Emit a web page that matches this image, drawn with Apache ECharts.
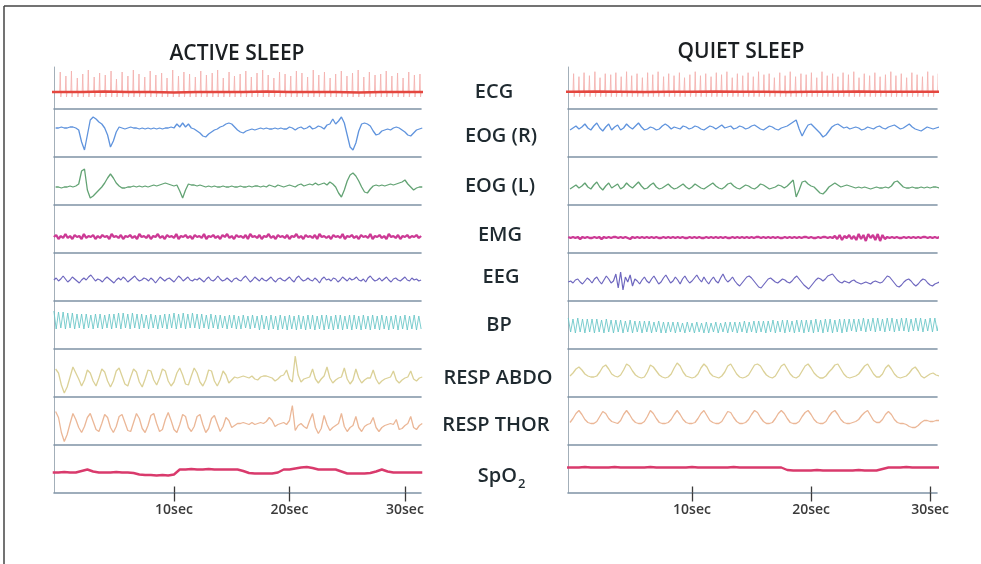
<!DOCTYPE html>
<html><head><meta charset="utf-8">
<script src="https://cdn.jsdelivr.net/npm/echarts@6/dist/echarts.min.js"></script>
<style>html,body{margin:0;padding:0;background:#fff}#c{width:981px;height:564px}</style>
</head><body><div id="c"></div>
<script>
// ---------------- DATA ----------------
const panelTitles = ['ACTIVE SLEEP', 'QUIET SLEEP'];
const channelNames = ['ECG', 'EOG (R)', 'EOG (L)', 'EMG', 'EEG', 'BP', 'RESP ABDO', 'RESP THOR', 'SpO'];
const spo2Subscript = '2';
const tickValues = [10, 20, 30];
const tickSuffix = 'sec';

// ECG: beat times (s) and R-peak heights; baseline level sampled every 2 s from t=-2
const ecgBeatsLeft = [0.15,0.64,1.12,1.63,2.10,2.58,3.09,3.56,4.05,4.55,
 5.02,5.51,6.01,6.48,6.97,7.47,7.94,8.43,8.93,9.40,
 9.89,10.39,10.86,11.35,11.85,12.32,12.81,13.31,13.78,14.27,
 14.77,15.24,15.73,16.22,16.70,17.19,17.68,18.16,18.65,19.14,
 19.62,20.11,20.60,21.08,21.57,22.06,22.54,23.03,23.52,24.00,
 24.49,24.98,25.46,25.95,26.44,26.92,27.41,27.90,28.38,28.87,
 29.36,29.84,30.33,30.82,31.30];
const ecgPeaksLeft = [20,16,21,14,18,22,15,19,17,21,
 13,20,16,22,18,15,21,17,19,14,
 22,16,20,18,15,21,17,19,22,14,
 20,16,18,21,15,19,22,17,14,20,
 18,16,21,19,15,22,17,20,14,18,
 21,16,19,22,15,20,17,18,21,16,
 19,14,20,17,18];
const ecgBaseLeft = [17,17,17,17.5,17,17,16.5,17,17,17,17.5,17,17,17,16.5,17,17,17];
const ecgBeatsRight = [0.05,0.50,0.93,1.38,1.84,2.27,2.71,3.17,3.60,4.05,
 4.50,4.93,5.38,5.83,6.27,6.70,7.15,7.61,8.04,8.49,
 8.94,9.37,9.82,10.27,10.71,11.15,11.60,12.04,12.48,12.93,
 13.38,13.81,14.26,14.71,15.15,15.59,16.04,16.48,16.92,17.37,
 17.82,18.25,18.70,19.15,19.59,20.03,20.48,20.92,21.36,21.81,
 22.26,22.69,23.14,23.59,24.03,24.47,24.92,25.36,25.80,26.25,
 26.70,27.13,27.58,28.03,28.47,28.91,29.36,29.80,30.24,30.69];
const ecgPeaksRight = [18,15,19,16,20,14,18,17,19,15,
 20,16,18,14,19,17,20,15,18,16,
 19,14,17,20,16,18,15,19,17,20,
 14,18,16,19,15,20,17,18,14,19,
 16,20,15,18,17,19,14,20,16,18,
 15,19,17,20,14,18,16,19,15,17,
 20,16,18,14,19,17,15,20,16,18];
const ecgBaseRight = [17.3,17.3,17.5,17.3,17,17.3,17.3,17.5,17.3,17.3,17,17.3,17.3,17.5,17.3,17.3,17.3,17.3];

// Slow channels: sampled every 0.25 s from t=-0.25 (rows = 2 s)
const eogRLeft = [29,29,30,29,29,30,30,29, 27,15,7,22,37,40,38,35, 33,29,22,10,16,25,30,29, 28,29,30,29,29,28,29,28,
 29,28,29,28,29,28,29,29, 30,29,33,30,34,30,33,29, 28,26,24,21,20,23,25,27, 28,30,31,33,34,33,30,27,
 25,24,26,27,28,27,28,29, 28,29,28,28,29,28,29,28, 28,30,29,27,29,30,28,29, 31,28,29,31,30,28,32,33,
 38,33,36,40,34,22,10,7, 14,26,33,34,33,31,26,22, 23,26,27,28,27,29,30,29, 27,25,22,21,24,27,28,29];
const eogLLeft = [18,18,17,18,18,19,18,19, 21,34,36,15,7,9,12,15, 18,22,27,31,27,22,19,17, 17,18,18,19,18,19,18,19,
 18,19,20,19,20,21,22,21, 20,19,20,14,7,15,21,20, 20,19,20,19,18,19,18,19, 18,18,19,18,18,19,18,18,
 19,18,18,19,18,19,19,18, 19,18,20,19,18,20,19,18, 19,20,19,18,20,21,19,20, 21,20,22,20,21,22,20,23,
 21,18,12,8,15,24,30,32, 29,24,18,13,12,16,19,20, 19,20,19,20,21,20,21,22, 23,25,21,18,15,17,18,18];
const abdoLeft = [28,24,12,4,10,20,30,24, 18,11,17,27,24,16,11,19, 28,25,16,10,16,26,29,21, 13,11,20,28,25,15,10,18,
 27,26,17,12,19,28,26,16, 11,15,24,29,22,13,12,21, 29,24,15,11,17,27,26,16, 11,17,26,22,14,17,20,19,
 20,21,20,19,21,18,17,20, 21,21,20,19,16,18,21,22, 27,18,15,41,22,15,18,19, 20,28,18,14,18,21,30,19,
 14,17,19,20,29,18,13,17, 28,19,14,17,19,19,27,18, 13,16,18,19,20,26,17,14, 17,19,20,26,18,16,19,20];
const thorLeft = [33,27,12,3,10,21,31,25, 17,12,18,27,31,23,15,13, 21,30,27,17,12,18,28,30, 22,14,13,22,31,26,16,12,
 19,29,31,21,13,15,25,32, 24,15,12,20,30,28,17,13, 18,28,30,20,12,16,26,29, 21,13,18,27,24,17,19,21,
 21,22,21,20,22,20,21,22, 21,23,27,24,18,20,21,22, 20,24,39,14,19,21,18,16, 24,31,17,11,16,29,20,14,
 17,19,21,31,18,13,17,19, 28,17,13,18,20,21,27,17, 13,17,19,20,21,20,25,15, 16,19,21,28,17,15,19,21];
const eogRRight = [27,29,31,28,30,33,29,27, 31,34,29,26,30,33,27,30, 32,27,29,33,30,28,31,34, 30,27,28,30,29,27,28,31,
 33,31,28,30,29,28,31,30, 28,29,31,30,28,27,29,31, 30,28,30,32,29,30,31,28, 29,31,30,28,29,31,32,30,
 28,27,29,31,30,28,27,29, 30,31,33,35,37,28,21,27, 32,33,30,27,24,20,22,26, 30,32,33,31,29,30,28,29,
 30,29,27,28,30,29,28,30, 31,29,28,30,31,32,30,28, 29,31,33,30,28,27,26,28, 30,29,28,29,30,29,29,29];
const eogLRight = [16,18,20,17,19,22,18,16, 20,23,18,15,19,22,17,19, 21,16,18,22,19,17,20,23, 19,16,17,20,22,18,16,17,
 19,21,18,16,17,19,21,18, 16,18,21,19,17,16,18,20, 22,19,17,16,18,21,22,19, 17,16,18,20,19,17,16,18,
 21,20,18,16,17,18,20,19, 17,19,22,25,8,15,23,24, 21,19,18,15,12,11,14,18, 20,22,20,18,19,20,19,18,
 17,18,17,18,17,16,17,18, 17,17,18,17,19,23,24,21, 18,17,17,18,17,17,18,17, 18,17,18,18,17,18,18,18];
const abdoRight = [21,24,28,30,27,23,21,20, 20,21,25,30,32,28,23,21, 20,22,27,33,31,26,22,20, 19,20,25,32,30,26,22,20,
 19,20,23,29,34,31,25,21, 20,19,20,23,29,33,30,24, 21,20,19,21,25,31,33,28, 23,20,19,20,22,27,32,33,
 31,26,22,20,19,21,26,31, 33,28,23,20,19,21,26,31, 33,29,24,21,19,19,21,25, 28,32,33,28,23,20,19,20,
 21,23,27,31,33,28,23,20, 20,23,29,32,28,23,20,19, 20,21,24,28,30,26,21,19, 21,23,24,22,21,20,20,20];
const thorRight = [22,26,31,34,30,25,22,21, 21,23,28,33,31,26,23,22, 21,24,30,34,30,25,22,21, 21,23,28,34,31,26,22,21,
 21,22,25,30,34,30,25,22, 21,21,22,26,31,34,29,24, 22,21,21,23,28,33,32,27, 23,21,21,22,25,30,34,32,
 27,23,21,21,22,26,31,34, 31,26,22,21,21,23,28,32, 34,30,25,22,21,21,23,28, 32,34,30,25,22,21,21,22,
 23,25,29,32,34,29,24,22, 22,25,30,33,30,25,22,21, 21,20,18,17,17,19,22,24, 24,23,23,24,24,24,24,24];

// Fast channels: sampled every 0.2 s from t=-0.4 (rows = 2 s)
const emgLeft = [16,18,14,17,15,19,15,17,14,18, 16,17,14,19,15,17,16,18,14,17, 15,18,16,17,14,19,16,17,15,18, 14,17,16,18,15,17,14,19,16,17,
 15,18,14,17,16,19,15,17,14,18, 16,17,15,19,14,17,16,18,15,17, 14,18,16,17,15,19,14,17,16,18, 15,17,14,18,16,19,15,17,14,18,
 16,17,15,18,14,19,16,17,15,18, 14,17,16,19,15,17,14,18,16,17, 15,18,14,17,16,19,15,17,14,18, 16,17,15,18,14,19,16,17,15,17,
 14,18,16,17,15,19,14,17,16,18, 15,17,14,18,16,17,15,19,14,17, 16,18,15,17,14,19,16,17,15,18, 14,17,16,18,15,17,16,18,15,17];
const emgRight = [16,15,16,15,16,14,16,15,16,15, 15,16,15,16,14,16,15,16,15,16, 16,15,16,15,16,15,14,16,15,16, 15,16,15,16,15,16,15,16,15,15,
 16,15,16,15,16,15,16,15,16,15, 15,16,15,16,15,16,15,15,16,15, 16,15,16,15,16,15,16,15,15,16, 15,16,15,16,15,16,15,16,15,16,
 16,15,16,15,16,15,16,15,16,15, 15,16,15,16,15,16,15,16,15,16, 16,15,16,15,15,16,15,16,16,15, 16,15,17,14,18,13,17,15,18,14,
 17,13,19,14,18,12,19,15,18,13, 19,12,18,14,16,15,16,15,16,15, 15,16,15,16,15,16,15,16,15,16, 16,15,16,15,16,15,16,15,16,15];
const eegLeft = [21,23,20,22,25,22,19,21,24,22, 20,18,21,23,21,24,26,23,20,22, 21,19,22,24,22,20,18,21,23,21, 24,22,19,21,23,25,22,20,21,23,
 22,20,23,21,18,21,24,22,20,22, 23,21,19,22,25,23,20,22,24,21, 20,22,21,23,21,19,22,24,21,20, 22,25,22,20,21,23,21,19,22,23,
 21,20,23,25,22,19,21,24,22,20, 23,21,20,22,24,21,19,22,23,21, 20,22,24,21,19,23,25,22,20,21, 23,21,20,23,21,18,22,24,21,22,
 20,23,22,19,21,24,22,20,23,21, 22,24,21,20,22,19,23,25,22,20, 21,23,20,22,24,21,19,22,23,21, 20,22,24,21,20,23,21,22,20,21];
const eegRight = [19,20,18,21,22,19,17,20,23,21, 18,22,24,20,17,21,25,22,18,20, 27,13,29,11,24,19,26,15,22,20, 17,21,24,20,18,22,25,21,17,19,
 23,26,22,18,20,24,21,17,22,25, 21,18,20,23,26,22,19,24,20,17, 21,24,20,18,23,27,22,19,21,24, 20,17,15,18,21,24,25,23,20,17,
 14,13,16,19,22,23,21,19,18,20, 22,21,19,18,20,23,25,22,19,16, 14,12,15,18,21,23,22,20,22,25, 26,27,24,21,19,18,20,19,18,20,
 21,19,18,17,18,19,18,17,19,20, 19,18,19,22,25,24,21,18,15,14, 16,19,21,22,20,17,15,17,20,22, 21,18,16,15,17,18,19,18,17,18];
const bpLeft = [38,20,37,21,37,20,36,21,36,20, 35,21,35,20,35,21,34,20,35,21, 35,20,34,21,35,20,35,21,36,20, 36,21,35,20,36,21,35,20,35,21,
 34,20,35,21,34,20,34,21,35,20, 35,21,36,20,35,21,36,20,35,21, 36,21,35,20,35,21,34,20,35,21, 34,20,34,21,33,20,34,21,34,20,
 33,20,34,21,33,20,34,21,33,19, 34,20,33,19,34,20,33,19,34,20, 33,19,34,20,33,19,34,20,33,19, 34,20,34,19,33,20,34,19,34,20,
 33,19,34,20,34,19,33,20,34,19, 34,20,33,19,34,20,33,19,34,20, 33,19,34,20,33,19,33,20,34,19, 33,20,34,19,33,20,34,19,33,20];
const bpRight = [31,17,30,16,31,17,30,16,30,17, 30,16,30,17,29,16,30,17,29,16, 29,17,29,16,28,17,29,16,28,17, 28,16,28,17,28,16,27,17,28,16,
 27,16,27,17,27,16,27,17,26,16, 27,17,26,16,27,17,26,16,27,16, 26,17,27,16,26,17,27,16,27,17, 27,16,27,17,28,16,27,17,28,16,
 28,17,28,16,28,17,29,16,28,17, 29,16,29,17,28,16,29,17,29,16, 29,17,29,16,30,17,29,16,30,17, 30,16,29,17,30,16,30,17,30,18,
 30,17,30,18,31,17,30,18,31,17, 31,18,30,17,31,18,31,17,30,18, 31,18,31,17,30,18,31,18,31,17, 30,18,31,17,31,18,30,18,31,18];

// SpO2: sampled every 0.5 s from t=-0.5
const spo2Left = [20,20,20.5,20, 20,21.5,23,21, 20,20,20,20.5, 20,20,19.5,18, 17.5,17.5,17,17.5, 17,18,23,23,
 23.5,23,23,23.5, 23,23,23,23, 23,21.5,19.5,19, 19,19,19,20, 23,23,24,25, 25.5,24.5,23,23,
 23,23,21,19, 19,19,19,19.5, 21,23,21,20, 20,20,20,20, 20];
const spo2Right = [25,25,25,25.5, 25,25,25,25, 25.5,25,25,25, 25,25,25.5,25, 25,25,25,25, 25,25.5,25,25,
 25,25,25,25, 25.5,25,25,25, 25,25,25,25, 25,22.5,22,22, 22,22,22.5,22, 22,22,22,22, 22,22.5,22,22,
 22,23.5,25,25, 25,25.5,25,25, 25,25,25,25, 25];

// ---------------- CHART ----------------
const SEP = [109, 157, 205, 253, 301, 349, 397, 444.5, 492.5];
const TOP0 = 67;
const panels = [
  {left: 54, width: 367, min: -0.39, max: 31.39, titleX: 237, titleY: 54},
  {left: 568, width: 369, min: -0.42, max: 30.58, titleX: 741, titleY: 52}
];
const colors = ['#e4473f', '#5f93dd', '#63a374', '#cc3a95', '#6e67bf', '#66c5c7', '#dbd197', '#ebb797', '#d93a6c'];
const widths = [2.4, 1.3, 1.3, 2.3, 1.2, 1, 1.3, 1.3, 2.4];

function seq(vals, t0, step) { return vals.map((v, i) => [+(t0 + i * step).toFixed(3), v]); }
function ecgSpikes(beats, peaks, baseVals) {
  const base = baseVals[0];
  const out = [];
  const n = Math.min(beats.length, peaks.length);
  for (let i = 0; i < n; i++) {
    const t = beats[i];
    out.push([t - 0.05, base], [t, base + peaks[i]], [t + 0.05, base - 5], [t + 0.1, base], null);
  }
  return out;
}

const panelData = [
  {ecg: [ecgBeatsLeft, ecgPeaksLeft, ecgBaseLeft], ch: [eogRLeft, eogLLeft, emgLeft, eegLeft, bpLeft, abdoLeft, thorLeft, spo2Left]},
  {ecg: [ecgBeatsRight, ecgPeaksRight, ecgBaseRight], ch: [eogRRight, eogLRight, emgRight, eegRight, bpRight, abdoRight, thorRight, spo2Right]}
];
// sampling for channels 1..8
const sampling = [[-0.25, 0.25], [-0.25, 0.25], [-0.4, 0.2], [-0.4, 0.2], [-0.4, 0.2], [-0.25, 0.25], [-0.25, 0.25], [-0.5, 0.5]];

const grid = [], xAxis = [], yAxis = [], series = [];
const sepColor = '#7f93a5';
panels.forEach((p, pi) => {
  for (let c = 0; c < 9; c++) {
    const top = c === 0 ? TOP0 : SEP[c - 1];
    const h = SEP[c] - top;
    const gi = grid.length;
    grid.push({left: p.left, width: p.width, top: top, height: h, containLabel: false});
    const last = c === 8;
    xAxis.push({
      type: 'value', gridIndex: gi, min: p.min, max: p.max, position: 'bottom',
      axisLine: {show: true, onZero: false, lineStyle: {color: sepColor, width: 1.6}},
      axisTick: last ? {show: true, customValues: tickValues, length: 9, lineStyle: {color: '#3a3a3a', width: 1.3}} : {show: false},
      axisLabel: last ? {show: true, customValues: tickValues, formatter: v => v + tickSuffix, margin: 11,
        fontSize: 14, fontWeight: 600, fontFamily: 'Open Sans', color: '#3a3a3a'} : {show: false},
      splitLine: {show: false}
    });
    yAxis.push({
      type: 'value', gridIndex: gi, min: 0, max: h,
      axisLine: {show: true, onZero: false, lineStyle: {color: '#a3afb9', width: 1}},
      axisTick: {show: false}, axisLabel: {show: false}, splitLine: {show: false}
    });
    if (last) {
      xAxis.push({
        type: 'value', gridIndex: gi, min: p.min, max: p.max, position: 'bottom',
        axisLine: {show: false, onZero: false},
        axisTick: {show: true, inside: true, customValues: tickValues, length: 6, lineStyle: {color: '#3a3a3a', width: 1.3}},
        axisLabel: {show: false}, splitLine: {show: false}
      });
    }
    const xi = xAxis.findIndex(a => a.gridIndex === gi);
    const pd = panelData[pi];
    if (c === 0) {
      const [beats, peaks, base] = pd.ecg;
      series.push({type: 'line', xAxisIndex: xi, yAxisIndex: gi, data: ecgSpikes(beats, peaks, base),
        showSymbol: false, connectNulls: false, lineStyle: {color: '#f4b2b0', width: 0.9}, silent: true});
      series.push({type: 'line', xAxisIndex: xi, yAxisIndex: gi, data: seq(base, -2, 2),
        showSymbol: false, lineStyle: {color: colors[0], width: widths[0]}, silent: true});
    } else {
      const [t0, st] = sampling[c - 1];
      series.push({type: 'line', xAxisIndex: xi, yAxisIndex: gi, data: seq(pd.ch[c - 1], t0, st),
        showSymbol: false, lineStyle: {color: colors[c], width: widths[c], opacity: c === 5 ? 0.85 : 1}, silent: true});
    }
  }
});

const graphics = [];
graphics.push({type: 'line', shape: {x1: 4, y1: 6, x2: 981, y2: 6}, style: {stroke: '#444', lineWidth: 1.5}});
graphics.push({type: 'line', shape: {x1: 4, y1: 6, x2: 4, y2: 564}, style: {stroke: '#444', lineWidth: 1.5}});
panels.forEach((p, i) => {
  graphics.push({type: 'text', x: p.titleX, y: p.titleY, style: {text: panelTitles[i], font: '600 21px "Open Sans"', fill: '#1b1f22', align: 'center', verticalAlign: 'middle'}});
});
const labelPos = [[494, 92], [501, 136], [500, 186], [500, 235], [501, 277], [499, 325], [498, 378], [496, 425], [517, 476]];
channelNames.forEach((n, i) => {
  graphics.push({type: 'text', x: labelPos[i][0], y: labelPos[i][1],
    style: {text: n, font: '600 20px "Open Sans"', fill: '#1f2a30', align: i === 8 ? 'right' : 'center', verticalAlign: 'middle'}});
});
graphics.push({type: 'text', x: 518, y: 484, style: {text: spo2Subscript, font: '600 13px "Open Sans"', fill: '#1f2a30', align: 'left', verticalAlign: 'middle'}});

const chart = echarts.init(document.getElementById('c'), null, {renderer: 'canvas'});
chart.setOption({
  animation: false,
  backgroundColor: '#ffffff',
  grid, xAxis, yAxis, series,
  graphic: graphics
});
</script>
</body></html>
